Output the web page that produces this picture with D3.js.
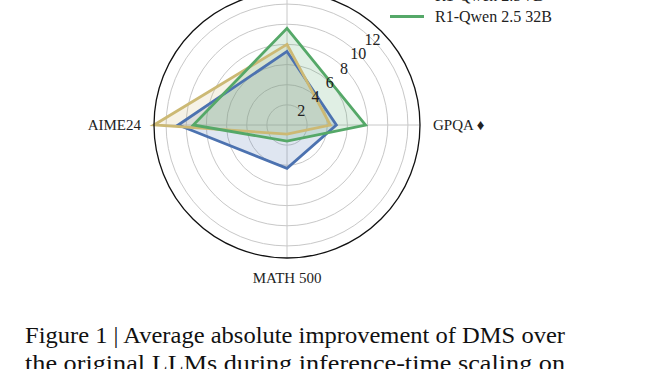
<!DOCTYPE html>
<html>
<head>
<meta charset="utf-8">
<script src="https://cdn.jsdelivr.net/npm/d3@7"></script>
<style>
  body { margin: 0; background: #fff; }
  svg { display: block; }
  text { font-family: "Liberation Serif", "Times New Roman", serif; fill: #222; }
</style>
</head>
<body>
<div id="chart-area"></div>
<script>

// data
let categories = ["LiveCodeBench", "GPQA \u2666", "MATH 500", "AIME24"];
let models = ["R1-Qwen 2.5 1.5B", "R1-Qwen 2.5 7B", "R1-Qwen 2.5 32B"];
let qwen15 = [7.3, 4.9, 4.3, 10.8];
let qwen7 = [8.0, 4.3, 0.9, 13.2];
let qwen32 = [9.6, 7.8, 1.6, 9.3];
let ticks = [2, 4, 6, 8, 10, 12];
let colors = ["#4C72B0", "#CCB974", "#55A868"];

let captionLines = [
  "Figure 1 | Average absolute improvement of DMS over",
  "the original LLMs during inference-time scaling on"
];

let width = 656, height = 369;
let cx = 287, cy = 125, R = 133;

let svg = d3.select("#chart-area").append("svg")
    .attr("width", width)
    .attr("height", height);

svg.append("rect").attr("width", width).attr("height", height).attr("fill", "#fff");

let allVals = qwen15.concat(qwen7, qwen32);
let r = d3.scaleLinear()
    .domain([0, d3.max(allVals)])
    .range([0, R]);

let angle = d3.scalePoint()
    .domain(categories)
    .range([0, 2 * Math.PI * (categories.length - 1) / categories.length]);

let g = svg.append("g")
    .attr("transform", "translate(" + cx + "," + cy + ")");

// grid circles
g.selectAll(".ring")
    .data(ticks)
  .enter().append("circle")
    .attr("class", "ring")
    .attr("r", d => r(d))
    .attr("fill", "none")
    .attr("stroke", "#c8c8c8")
    .attr("stroke-width", 1);

// spokes
g.selectAll(".spoke")
    .data(categories)
  .enter().append("line")
    .attr("x1", 0).attr("y1", 0)
    .attr("x2", d => R * Math.sin(angle(d)))
    .attr("y2", d => -R * Math.cos(angle(d)))
    .attr("stroke", "#c8c8c8")
    .attr("stroke-width", 1);

// series
let series = [qwen15, qwen7, qwen32];
let line = d3.lineRadial()
    .angle((d, i) => angle(categories[i]))
    .radius(d => r(d))
    .curve(d3.curveLinearClosed);

g.selectAll(".area")
    .data(series)
  .enter().append("path")
    .attr("d", d => line(d))
    .attr("fill", (d, i) => colors[i])
    .attr("fill-opacity", 0.18)
    .attr("stroke", "none");

g.selectAll(".outline")
    .data(series)
  .enter().append("path")
    .attr("d", d => line(d))
    .attr("fill", "none")
    .attr("stroke", (d, i) => colors[i])
    .attr("stroke-width", 2.8)
    .attr("stroke-linejoin", "miter");

// outer frame
g.append("circle")
    .attr("r", R)
    .attr("fill", "none")
    .attr("stroke", "#111")
    .attr("stroke-width", 1.3);

// tick labels at 45 degrees
g.selectAll(".tick")
    .data(ticks)
  .enter().append("text")
    .attr("x", d => r(d) * Math.SQRT1_2)
    .attr("y", d => -r(d) * Math.SQRT1_2)
    .attr("dy", "0.35em")
    .attr("text-anchor", "middle")
    .style("font-size", "16px")
    .text(d => d);

// category labels
g.selectAll(".cat")
    .data(categories)
  .enter().append("text")
    .attr("x", d => (R + 20) * Math.sin(angle(d)))
    .attr("y", d => -(R + 20) * Math.cos(angle(d)))
    .attr("dy", "0.35em")
    .attr("text-anchor", d => {
      let s = Math.sin(angle(d));
      return s > 0.1 ? "start" : (s < -0.1 ? "end" : "middle");
    })
    .attr("dx", d => {
      let s = Math.sin(angle(d));
      return s > 0.1 ? -7 : (s < -0.1 ? 7 : 0);
    })
    .style("font-size", "15px")
    .text(d => d);

// legend
let legend = svg.append("g")
    .attr("transform", "translate(390,16.5)");

let items = legend.selectAll(".item")
    .data(models)
  .enter().append("g")
    .attr("transform", (d, i) => "translate(0," + (i - 2) * 21 + ")");

items.append("line")
    .attr("x1", 0).attr("x2", 34)
    .attr("stroke", (d, i) => colors[i])
    .attr("stroke-width", 2.8);

items.append("text")
    .attr("x", 45)
    .attr("dy", "0.35em")
    .style("font-size", "16px")
    .text(d => d);

// caption
svg.selectAll(".caption")
    .data(captionLines)
  .enter().append("text")
    .attr("x", 25)
    .attr("y", (d, i) => 343 + i * 28)
    .attr("textLength", 540)
    .attr("lengthAdjust", "spacingAndGlyphs")
    .style("font-size", "23px")
    .style("fill", "#111")
    .text(d => d);

</script>
</body>
</html>
